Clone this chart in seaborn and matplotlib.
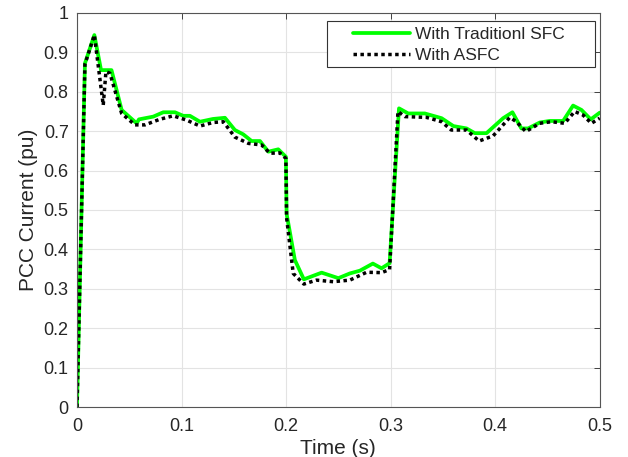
import numpy as np
import pandas as pd
import matplotlib
matplotlib.use('Agg')
import matplotlib.pyplot as plt
from matplotlib.patches import Rectangle
from matplotlib.ticker import FormatStrFormatter
import seaborn as sns

# PCC current, traditional SFC (green)
t_sfc = [0, 0.0076, 0.0166, 0.023, 0.033, 0.0427, 0.057, 0.0593, 0.073, 0.0825,
         0.0937, 0.1016, 0.108, 0.1176, 0.130, 0.1415, 0.151, 0.159, 0.167, 0.175,
         0.183, 0.1925, 0.1998, 0.2005, 0.2084, 0.217, 0.234, 0.25, 0.261, 0.2706,
         0.283, 0.2913, 0.299, 0.308, 0.3168, 0.3327, 0.3487, 0.36, 0.3726, 0.3805,
         0.3917, 0.4076, 0.4165, 0.425, 0.4315, 0.4426, 0.452, 0.465, 0.4745, 0.4825,
         0.4914, 0.5]
i_sfc = [0, 0.872, 0.944, 0.855, 0.855, 0.754, 0.72, 0.73, 0.737, 0.748,
         0.748, 0.739, 0.739, 0.724, 0.731, 0.734, 0.703, 0.692, 0.675, 0.675,
         0.648, 0.654, 0.635, 0.49, 0.373, 0.324, 0.341, 0.327, 0.339, 0.346,
         0.364, 0.352, 0.365, 0.758, 0.745, 0.745, 0.733, 0.713, 0.707, 0.695,
         0.695, 0.733, 0.748, 0.707, 0.707, 0.722, 0.726, 0.726, 0.765, 0.754,
         0.73, 0.747]

# PCC current, ASFC (black dotted)
t_asfc = [0, 0.0076, 0.0166, 0.0251, 0.0277, 0.0315, 0.0427, 0.0554, 0.065, 0.079,
          0.092, 0.1049, 0.1176, 0.130, 0.14, 0.151, 0.164, 0.1766, 0.1845, 0.194,
          0.1998, 0.2005, 0.2068, 0.217, 0.229, 0.245, 0.261, 0.277, 0.2913, 0.299,
          0.307, 0.3136, 0.3343, 0.3487, 0.358, 0.3726, 0.3846, 0.398, 0.414, 0.4203,
          0.4293, 0.4426, 0.4538, 0.4665, 0.476, 0.484, 0.492, 0.5]
i_asfc = [0, 0.87, 0.944, 0.766, 0.851, 0.847, 0.745, 0.716, 0.716, 0.73,
          0.739, 0.728, 0.713, 0.722, 0.724, 0.685, 0.669, 0.665, 0.644, 0.645,
          0.631, 0.48, 0.339, 0.312, 0.322, 0.318, 0.322, 0.342, 0.341, 0.349,
          0.75, 0.737, 0.735, 0.724, 0.703, 0.703, 0.675, 0.688, 0.735, 0.724,
          0.699, 0.72, 0.724, 0.72, 0.75, 0.741, 0.72, 0.733]

labels = ['With Traditionl SFC', 'With ASFC']

df_sfc = pd.DataFrame({'t': t_sfc, 'i': i_sfc})
df_asfc = pd.DataFrame({'t': t_asfc, 'i': i_asfc})

sns.set_style('white')
plt.rcParams['font.family'] = ['Liberation Sans', 'DejaVu Sans']

fig = plt.figure(figsize=(6.28, 4.57), dpi=100)
ax = fig.add_axes([0.1226, 0.1094, 0.8324, 0.8622])

sns.lineplot(data=df_sfc, x='t', y='i', color='#00ff00', linewidth=2.7,
             label=labels[0], ax=ax)
sns.lineplot(data=df_asfc, x='t', y='i', color='black', linewidth=2.5,
             linestyle=(0, (1, 1)), label=labels[1], ax=ax)

ax.set_xlim(0, 0.5)
ax.set_ylim(0, 1)
ax.set_xticks(np.arange(0, 0.51, 0.1))
ax.set_yticks(np.arange(0, 1.01, 0.1))
ax.xaxis.set_major_formatter(FormatStrFormatter('%g'))
ax.yaxis.set_major_formatter(FormatStrFormatter('%g'))
ax.grid(True, color='#e3e3e3', linewidth=0.8)
ax.tick_params(axis='both', direction='in', top=True, right=True, length=4,
               width=0.7, color='#404040', labelsize=13, labelcolor='#262626')
ax.tick_params(axis='x', pad=8)
ax.tick_params(axis='y', pad=6)
for s in ax.spines.values():
    s.set_color('#555555')
    s.set_linewidth(0.8)
ax.set_xlabel('Time (s)', size=15, color='#262626', labelpad=3)
ax.set_ylabel('PCC Current (pu)', size=15, color='#262626', labelpad=4)

# MATLAB-style legend box (wide padding), legend entries drawn on top
box = Rectangle((0.478, 0.863), 0.9904 - 0.478, 0.9797 - 0.863,
                transform=ax.transAxes, facecolor='white', edgecolor='#333333',
                linewidth=0.8, zorder=4)
ax.add_patch(box)
leg = ax.legend(loc='upper left', bbox_to_anchor=(0.5277, 0.964),
                borderaxespad=0, borderpad=0, fontsize=12.5, frameon=False,
                handlelength=3.3, labelspacing=0.32, handletextpad=0.3)
leg.set_zorder(5)

plt.savefig('out.png', dpi=100)
